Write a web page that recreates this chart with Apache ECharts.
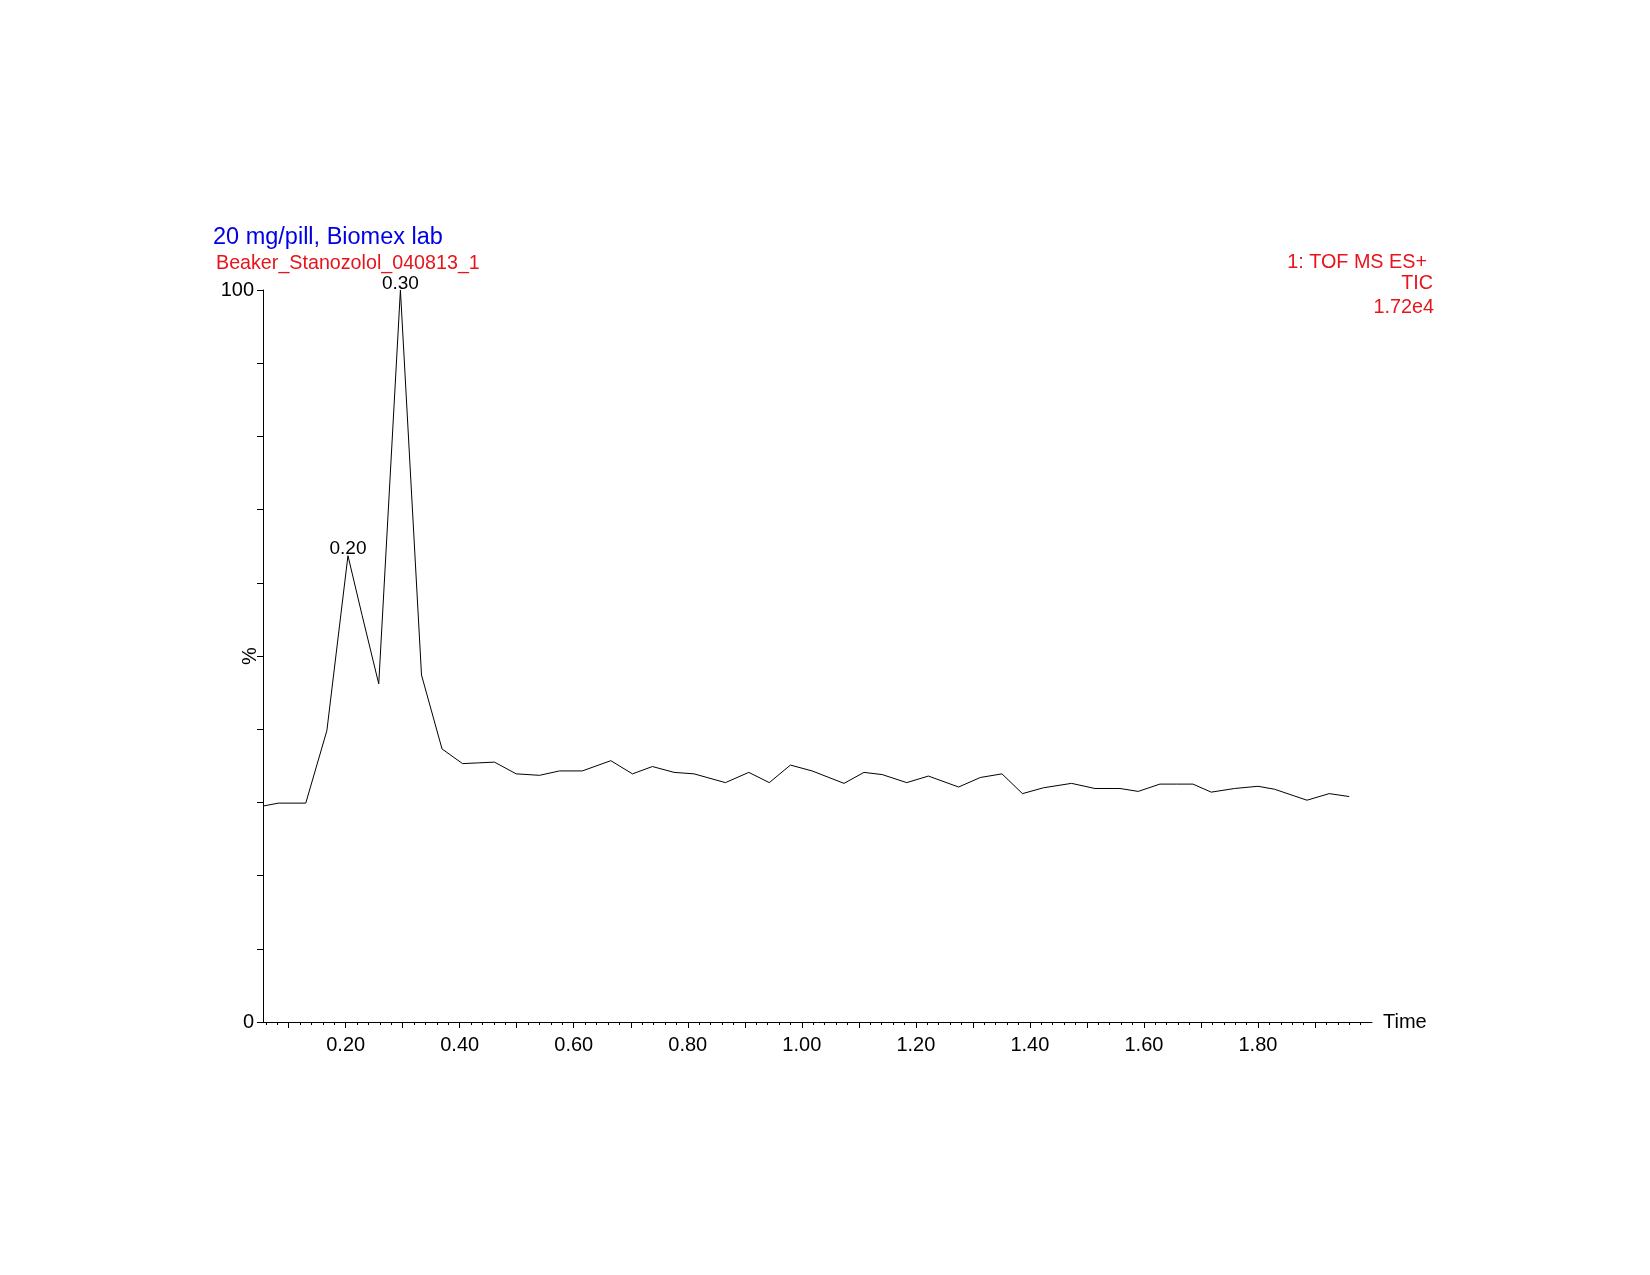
<!DOCTYPE html>
<html>
<head>
<meta charset="utf-8">
<script src="https://cdn.jsdelivr.net/npm/echarts@6/dist/echarts.min.js"></script>
<style>
	html, body { margin: 0; padding: 0; background: #fff; }
	#chart { width: 1650px; height: 1275px; }
</style>
</head>
<body>
<div id="chart"></div>
<script>
// retention time (min) and relative intensity (%)
var times = [0.055, 0.082, 0.130, 0.167, 0.204, 0.229, 0.258, 0.296, 0.333, 0.369,
	0.405, 0.433, 0.461, 0.499, 0.540, 0.575, 0.615, 0.665, 0.703, 0.738,
	0.776, 0.811, 0.866, 0.907, 0.943, 0.980, 1.018, 1.074, 1.109, 1.141,
	1.184, 1.222, 1.275, 1.313, 1.351, 1.387, 1.424, 1.473, 1.514, 1.558,
	1.590, 1.628, 1.657, 1.686, 1.718, 1.759, 1.800, 1.829, 1.886, 1.925, 1.960];
var intensity = [29.5, 29.9, 29.9, 39.8, 63.7, 55.5, 46.2, 100, 47.4, 37.3,
	35.3, 35.4, 35.5, 33.9, 33.7, 34.3, 34.3, 35.7, 33.9, 34.9,
	34.1, 33.9, 32.7, 34.1, 32.7, 35.1, 34.3, 32.6, 34.1, 33.8,
	32.7, 33.6, 32.1, 33.4, 33.9, 31.2, 32.0, 32.6, 31.9, 31.9,
	31.5, 32.5, 32.5, 32.5, 31.4, 31.9, 32.2, 31.8, 30.3, 31.2, 30.8];

// labelled peaks
var peakIndex = [4, 7];
var peakLabels = ['0.20', '0.30'];

// axis labels
var xLabels = [0.2, 0.4, 0.6, 0.8, 1.0, 1.2, 1.4, 1.6, 1.8];
var yLabels = [0, 100];

var xMin = 0.055, xMax = 2.0;

var majorTicks = [];
for (var i = 1; i <= 19; i++) majorTicks.push(+(i * 0.1).toFixed(2));
var minorTicks = [];
for (var j = 3; j <= 99; j++) minorTicks.push(+(j * 0.02).toFixed(2));

var data = [];
for (var k = 0; k < times.length; k++) {
	data.push([times[k], intensity[k]]);
}

var peaks = [];
for (var p = 0; p < peakIndex.length; p++) {
	peaks.push({
		value: [times[peakIndex[p]], intensity[peakIndex[p]]],
		name: peakLabels[p]
	});
}

var myChart = echarts.init(document.getElementById('chart'));
var red = '#e8141c';
var font = 'Liberation Sans';

myChart.setOption({
	backgroundColor: '#fff',
	animation: false,
	grid: { left: 263, right: 278, top: 290, bottom: 253 },
	xAxis: [
		{
			type: 'value',
			min: xMin,
			max: xMax,
			name: 'Time',
			nameLocation: 'end',
			nameGap: 11,
			nameTextStyle: { color: '#000', fontFamily: font, fontSize: 20 },
			splitLine: { show: false },
			axisLine: { onZero: false, lineStyle: { color: '#000', width: 1 } },
			axisTick: { customValues: majorTicks, length: 6, lineStyle: { color: '#000' } },
			axisLabel: {
				customValues: xLabels,
				margin: 13,
				color: '#000',
				fontFamily: font,
				fontSize: 20,
				formatter: function (v) { return v.toFixed(2); }
			}
		},
		{
			type: 'value',
			min: xMin,
			max: xMax,
			position: 'bottom',
			splitLine: { show: false },
			axisLine: { show: false, onZero: false },
			axisTick: { customValues: minorTicks, length: 3, lineStyle: { color: '#000' } },
			axisLabel: { show: false }
		}
	],
	yAxis: {
		type: 'value',
		min: 0,
		max: 100,
		interval: 10,
		name: '%',
		nameLocation: 'middle',
		nameRotate: 90,
		nameGap: 3,
		nameMoveOverlap: false,
		nameTextStyle: { color: '#000', fontFamily: font, fontSize: 20 },
		splitLine: { show: false },
		axisLine: { show: true, lineStyle: { color: '#000', width: 1 } },
		axisTick: { show: true, length: 6, lineStyle: { color: '#000' } },
		axisLabel: {
			margin: 9,
			color: '#000',
			fontFamily: font,
			fontSize: 20,
			formatter: function (v) { return yLabels.indexOf(v) >= 0 ? String(v) : ''; }
		}
	},
	graphic: [
		{ type: 'text', style: { text: '20 mg/pill, Biomex lab', x: 213, y: 238, fill: '#0000e6', font: '23.5px "Liberation Sans"', textVerticalAlign: 'middle' } },
		{ type: 'text', style: { text: 'Beaker_Stanozolol_040813_1', x: 216, y: 264, fill: red, font: '19.7px "Liberation Sans"', textVerticalAlign: 'middle' } },
		{ type: 'text', style: { text: '1: TOF MS ES+', x: 1427, y: 263, fill: red, font: '19.8px "Liberation Sans"', textAlign: 'right', textVerticalAlign: 'middle' } },
		{ type: 'text', style: { text: 'TIC', x: 1433, y: 284, fill: red, font: '19.8px "Liberation Sans"', textAlign: 'right', textVerticalAlign: 'middle' } },
		{ type: 'text', style: { text: '1.72e4', x: 1434, y: 308, fill: red, font: '19.8px "Liberation Sans"', textAlign: 'right', textVerticalAlign: 'middle' } }
	],
	series: [
		{
			type: 'line',
			xAxisIndex: 0,
			data: data,
			showSymbol: false,
			symbol: 'none',
			lineStyle: { color: '#000', width: 1 }
		},
		{
			type: 'scatter',
			xAxisIndex: 0,
			data: peaks,
			symbolSize: 0,
			silent: true,
			z: 5,
			label: {
				show: true,
				position: 'top',
				distance: -3,
				formatter: function (d) { return d.name; },
				color: '#000',
				opacity: 1,
				fontFamily: font,
				fontSize: 19
			}
		}
	]
});
</script>
</body>
</html>
